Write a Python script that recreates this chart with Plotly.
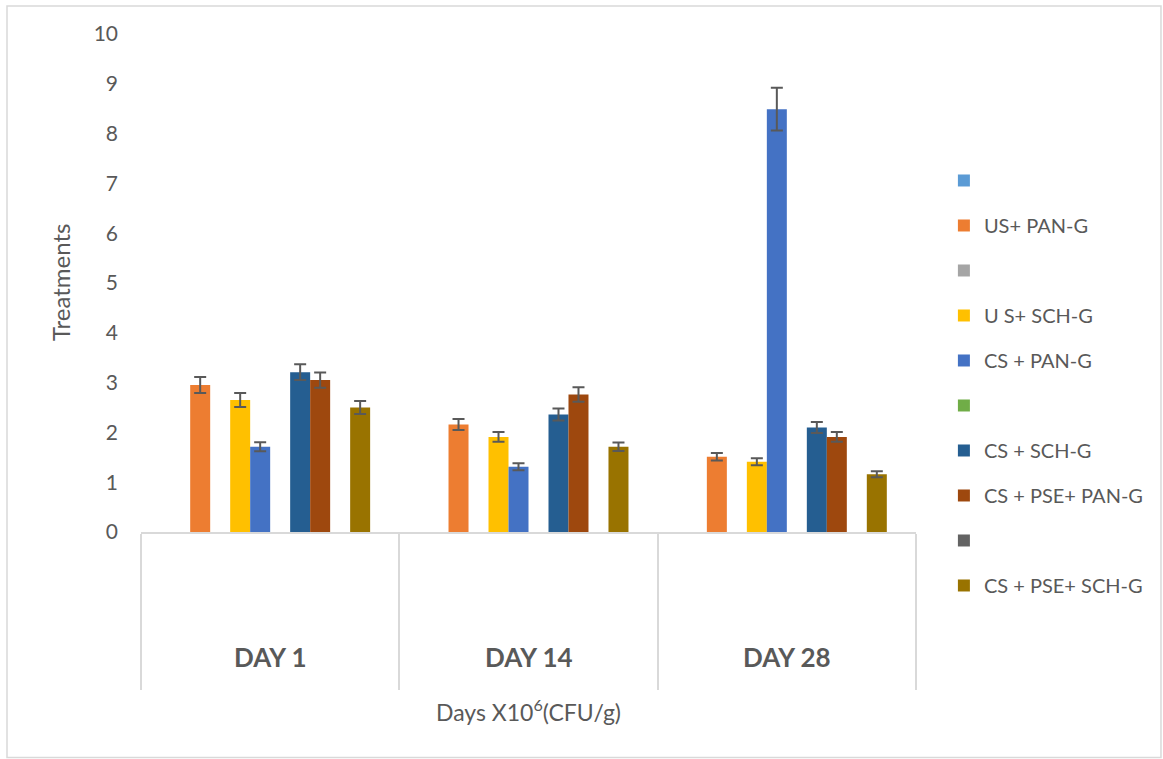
import plotly.graph_objects as go

categories = ["DAY 1", "DAY 14", "DAY 28"]

series_names = ["", "US+ PAN-G", "", "U S+ SCH-G", "CS + PAN-G", "",
                "CS + SCH-G", "CS + PSE+ PAN-G", "", "CS + PSE+ SCH-G"]
series_colors = ["#5B9BD5", "#ED7D31", "#A5A5A5", "#FFC000", "#4472C4",
                 "#70AD47", "#255E91", "#9E480E", "#636363", "#997300"]

empty = [None, None, None]
us_pan = [2.95, 2.16, 1.51]
us_pan_err = [0.16, 0.11, 0.075]
us_sch = [2.65, 1.91, 1.41]
us_sch_err = [0.14, 0.10, 0.07]
cs_pan = [1.71, 1.31, 8.49]
cs_pan_err = [0.09, 0.07, 0.43]
cs_sch = [3.21, 2.36, 2.10]
cs_sch_err = [0.16, 0.12, 0.11]
cs_pse_pan = [3.05, 2.76, 1.91]
cs_pse_pan_err = [0.155, 0.145, 0.10]
cs_pse_sch = [2.50, 1.71, 1.16]
cs_pse_sch_err = [0.13, 0.085, 0.06]

series_values = [empty, us_pan, empty, us_sch, cs_pan, empty,
                 cs_sch, cs_pse_pan, empty, cs_pse_sch]
series_errors = [None, us_pan_err, None, us_sch_err, cs_pan_err, None,
                 cs_sch_err, cs_pse_pan_err, None, cs_pse_sch_err]

y_ticks = list(range(0, 11))

FONT = "Lato"
TXT = "#595959"
GRID = "#D9D9D9"

fig = go.Figure()
for i, (nm, col, vals, errs) in enumerate(zip(series_names, series_colors,
                                               series_values, series_errors)):
    kw = {}
    if errs is not None:
        kw["error_y"] = dict(type="data", array=errs, visible=True,
                             color=TXT, thickness=2, width=6)
    fig.add_trace(go.Bar(
        x=categories, y=vals, name=nm if nm else " ",
        marker=dict(color=col, line=dict(width=0)),
        legendgroup=f"g{i}", **kw))

fig.update_layout(
    width=1163, height=759,
    margin=dict(l=141, r=247, t=34, b=227),
    paper_bgcolor="white", plot_bgcolor="white",
    barmode="group", bargap=0.226, bargroupgap=0,
    font=dict(family=FONT, color=TXT),
    showlegend=True,
    legend=dict(x=1.036, xanchor="left", y=0.745, yanchor="top",
                traceorder="grouped", tracegroupgap=16,
                font=dict(family=FONT, size=20, color=TXT),
                bgcolor="rgba(0,0,0,0)"),
    xaxis=dict(type="category", range=[-0.5, 2.5], showticklabels=False,
               showline=True, linecolor=GRID, linewidth=1.5,
               ticks="outside", tickson="boundaries", ticklen=156,
               tickcolor=GRID, tickwidth=1.5, showgrid=False, zeroline=False),
    yaxis=dict(range=[0, 10], tickvals=y_ticks, showgrid=False,
               zeroline=False, showline=False, ticks="",
               ticklabelstandoff=22,
               tickfont=dict(family=FONT, size=21, color=TXT)),
)

# y title
fig.add_annotation(text="Treatments", xref="paper", yref="paper",
                   x=-0.1045, y=0.5, textangle=-90, showarrow=False,
                   xanchor="center", yanchor="middle",
                   font=dict(family=FONT, size=24, color=TXT))
# category labels
for c in categories:
    fig.add_annotation(text=c, xref="x", yref="paper", x=c, y=-0.251,
                       showarrow=False, xanchor="center", yanchor="middle",
                       font=dict(family=FONT, size=26, color=TXT, weight="bold"))
# x title
fig.add_annotation(text="Days X10<sup>6</sup>(CFU/g)", xref="paper", yref="paper",
                   x=0.5, y=-0.3594, showarrow=False,
                   xanchor="center", yanchor="middle",
                   font=dict(family=FONT, size=23, color=TXT))
# outer chart border
fig.add_shape(type="rect", xref="paper", yref="paper",
              x0=-0.1729, x1=1.3161, y0=-0.4528, y1=1.0562,
              line=dict(color=GRID, width=1.5), fillcolor="rgba(0,0,0,0)",
              layer="below")

fig.write_html("out.html",
               config={"displayModeBar": False},
               post_script="document.body.style.margin='0';")
